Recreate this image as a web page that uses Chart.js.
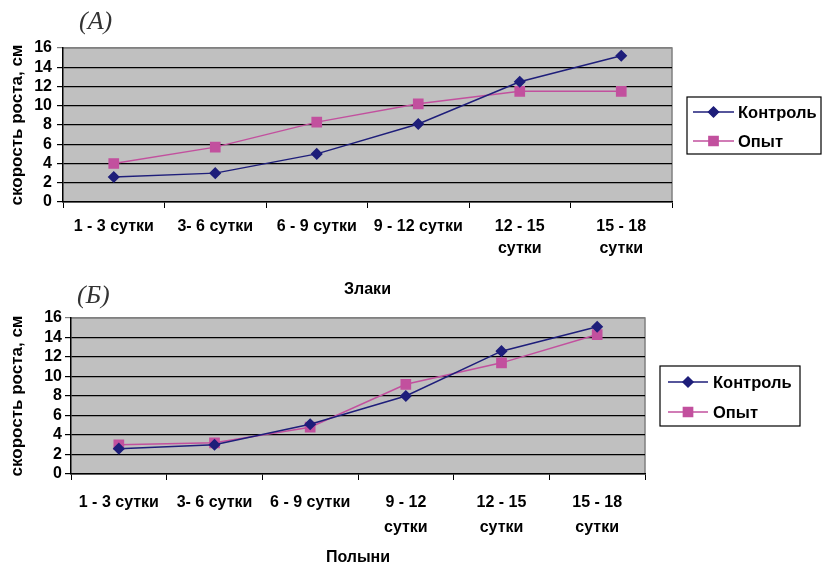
<!DOCTYPE html>
<html>
<head>
<meta charset="utf-8">
<script src="https://cdn.jsdelivr.net/npm/chart.js@4.4.1/dist/chart.umd.min.js"></script>
<style>
  body { margin: 0; background: #fff; }
  #wrap { position: relative; width: 822px; height: 568px; }
  canvas { position: absolute; left: 0; }
  .tag { position: absolute; font-family: "Liberation Serif", serif; font-style: italic; font-size: 26px; color: #333; }
</style>
</head>
<body>
<div id="wrap">
  <canvas id="chartA" width="822" height="300" style="top:0"></canvas>
  <canvas id="chartB" width="822" height="268" style="top:300px"></canvas>
  <div class="tag" style="left:79px; top:6px;">(А)</div>
  <div class="tag" style="left:77px; top:280px;">(Б)</div>
</div>
<script>
// data
var seriesNames = ['Контроль', 'Опыт'];
var labelsA = ['1 - 3 сутки', '3- 6 сутки', '6 - 9 сутки', '9 - 12 сутки', ['12 - 15', 'сутки'], ['15 - 18', 'сутки']];
var labelsB = ['1 - 3 сутки', '3- 6 сутки', '6 - 9 сутки', ['9 - 12', 'сутки'], ['12 - 15', 'сутки'], ['15 - 18', 'сутки']];
var controlA = [2.6, 3.0, 5.0, 8.1, 12.5, 15.2];
var opytA = [4.0, 5.7, 8.3, 10.2, 11.5, 11.5];
var controlB = [2.6, 3.0, 5.1, 8.0, 12.6, 15.1];
var opytB = [3.0, 3.2, 4.8, 9.2, 11.4, 14.3];
var xTitleA = 'Злаки';
var xTitleB = 'Полыни';
var yTitle = 'скорость роста, см';

var NAVY = '#1e1e7a';
var PINK = '#c2509e';
var FONT = "'Liberation Sans', Arial, sans-serif";

// grey plot background + grey border on top/right
var plotBg = {
    id: 'plotBg',
    beforeDraw: function(chart) {
        var a = chart.chartArea, ctx = chart.ctx;
        ctx.save();
        ctx.fillStyle = '#c0c0c0';
        ctx.fillRect(a.left, a.top, a.right - a.left, a.bottom - a.top);
        ctx.strokeStyle = '#808080';
        ctx.lineWidth = 1.5;
        ctx.beginPath();
        ctx.moveTo(a.left, a.top);
        ctx.lineTo(a.right, a.top);
        ctx.lineTo(a.right, a.bottom);
        ctx.stroke();
        ctx.restore();
    }
};

// excel-like legend with line + marker inside a framed box
var boxLegend = {
    id: 'boxLegend',
    afterDraw: function(chart, args, opts) {
        var ctx = chart.ctx;
        ctx.save();
        ctx.strokeStyle = '#000';
        ctx.lineWidth = 1.2;
        ctx.strokeRect(opts.box[0], opts.box[1], opts.box[2] - opts.box[0], opts.box[3] - opts.box[1]);
        chart.data.datasets.forEach(function(ds, i) {
            var y = opts.rows[i];
            ctx.strokeStyle = ds.borderColor;
            ctx.lineWidth = 1.5;
            ctx.beginPath();
            ctx.moveTo(opts.lineX[0], y);
            ctx.lineTo(opts.lineX[1], y);
            ctx.stroke();
            ctx.fillStyle = ds.pointBackgroundColor;
            ctx.strokeStyle = ds.pointBorderColor;
            Chart.helpers.drawPoint(ctx, {pointStyle: ds.pointStyle, radius: ds.pointRadius, borderWidth: 1},
                (opts.lineX[0] + opts.lineX[1]) / 2, y);
            ctx.fillStyle = '#000';
            ctx.font = 'bold 16.5px ' + FONT;
            ctx.textBaseline = 'middle';
            ctx.fillText(ds.label, opts.textX, y + 1);
        });
        ctx.restore();
    }
};

function makeChart(id, labels, control, opyt, xTitle, lay) {
    var ctx = document.getElementById(id).getContext('2d');
    return new Chart(ctx, {
        type: 'line',
        data: {
            labels: labels,
            datasets: [{
                label: seriesNames[0],
                data: control,
                borderColor: NAVY,
                backgroundColor: NAVY,
                pointBackgroundColor: NAVY,
                pointBorderColor: NAVY,
                pointStyle: 'rectRot',
                pointRadius: 5,
                borderWidth: 1.5,
                tension: 0
            }, {
                label: seriesNames[1],
                data: opyt,
                borderColor: PINK,
                backgroundColor: PINK,
                pointBackgroundColor: PINK,
                pointBorderColor: PINK,
                pointStyle: 'rect',
                pointRadius: 6.5,
                borderWidth: 1.5,
                tension: 0
            }]
        },
        options: {
            responsive: false,
            animation: false,
            layout: { padding: lay.padding },
            plugins: {
                legend: { display: false },
                tooltip: { enabled: false },
                boxLegend: lay.legend
            },
            scales: {
                x: {
                    offset: true,
                    grid: { offset: true, drawOnChartArea: false, drawTicks: true, tickLength: 6, color: '#000' },
                    border: { color: '#000', width: 1.5 },
                    ticks: {
                        color: '#000', autoSkip: false, maxRotation: 0, minRotation: 0,
                        padding: lay.xPad,
                        font: { family: FONT, size: 16, weight: 'bold', lineHeight: lay.xLine }
                    },
                    title: {
                        display: true, text: xTitle, color: '#000',
                        font: { family: FONT, size: 16, weight: 'bold' },
                        padding: { top: 0, bottom: 1 }
                    },
                    afterFit: function(scale) { scale.height = lay.xHeight; }
                },
                y: {
                    min: 0, max: 16,
                    grid: {
                        color: function(c) { return c.tick && c.tick.value === 16 ? '#808080' : '#000'; },
                        lineWidth: 1.2, tickLength: 6
                    },
                    border: { color: '#000', width: 1.5 },
                    ticks: {
                        stepSize: 2, autoSkip: false, color: '#000', padding: lay.yPad,
                        font: { family: FONT, size: 16, weight: 'bold' }
                    },
                    title: {
                        display: true, text: yTitle, color: '#000',
                        font: { family: FONT, size: 17, weight: 'bold' },
                        padding: { top: 7, bottom: 0 }
                    },
                    afterFit: function(scale) { scale.width = lay.yWidth; }
                }
            }
        },
        plugins: [plotBg, boxLegend]
    });
}

makeChart('chartA', labelsA, controlA, opytA, xTitleA, {
    padding: { top: 48, left: 0, right: 150, bottom: 0 },
    yWidth: 63, xHeight: 98, xPad: 8, xLine: 1.375, yPad: 5,
    legend: { box: [687, 97, 821, 154], rows: [112, 141], lineX: [693, 734], textX: 738 }
});

makeChart('chartB', labelsB, controlB, opytB, xTitleB, {
    padding: { top: 18, left: 0, right: 177, bottom: 0 },
    yWidth: 71, xHeight: 94, xPad: 10.5, xLine: 1.5625, yPad: 3,
    legend: { box: [660, 66, 800, 126], rows: [82, 112], lineX: [668, 708], textX: 713 }
});
</script>
</body>
</html>
